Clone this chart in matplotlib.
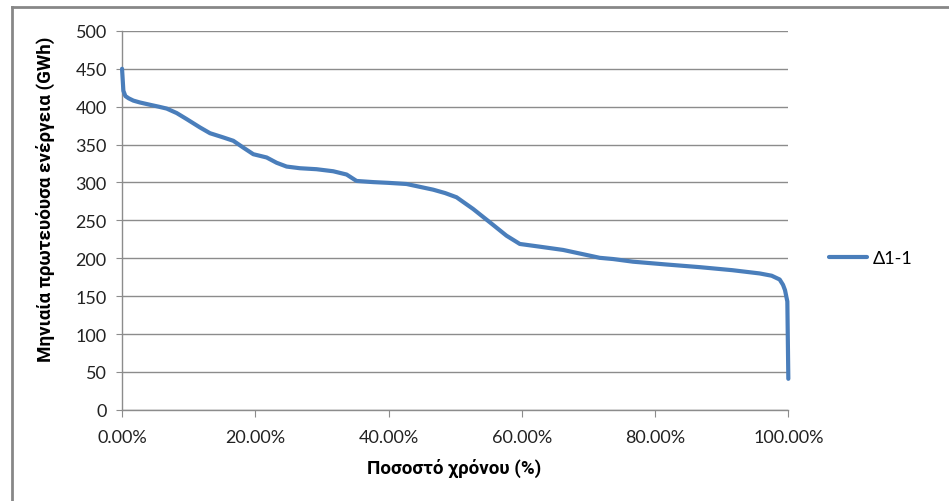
import matplotlib
matplotlib.use("Agg")
import matplotlib.pyplot as plt
from matplotlib.lines import Line2D
from matplotlib.ticker import FuncFormatter, MultipleLocator

plt.rcParams['font.family'] = ['Lato', 'DejaVu Sans']

# duration curve of monthly primary energy, series Δ1-1
time_pct = [0, 0.2, 0.5, 1.0, 1.7, 2.7, 4.2, 5.5, 6.7, 8.2, 9.7, 11.7, 13.2, 15.2,
            16.7, 18.2, 19.7, 21.7, 23.2, 24.7, 26.7, 29.2, 31.7, 33.7, 35.2,
            37.7, 40.0, 42.7, 46.7, 48.5, 50.2, 52.7, 55.2, 57.7, 59.7, 62.7,
            66.2, 69.7, 71.7, 73.7, 76.7, 81.7, 86.7, 91.6, 95.7, 97.5, 98.7,
            99.2, 99.5, 99.85, 100]
energy_gwh = [450, 421, 414, 411, 408, 405.5, 402.5, 400, 397.5, 391.6, 383.6, 372.6,
              365, 359.4, 355, 346, 337.3, 333, 326, 321, 318.8, 317.5, 314.8,
              310.5, 302, 300.5, 299.5, 298, 290.5, 286, 280.5, 265, 247.5, 229.8,
              218.9, 215.3, 211, 204.4, 200.6, 199, 195.5, 191.8, 188.3, 184.3,
              180, 177, 172, 165, 158, 143, 41]
series_name = 'Δ1-1'

fig = plt.figure(figsize=(9.49, 5.02), dpi=100)
ax = fig.add_axes([0.1286, 0.1815, 0.7021, 0.755])

ax.plot(time_pct, energy_gwh, color='#4a7ebb', lw=3.0, label=series_name,
        solid_capstyle='round', solid_joinstyle='round', zorder=3, clip_on=False)

ax.set_xlim(0, 100)
ax.set_ylim(0, 500)
ax.xaxis.set_major_locator(MultipleLocator(20))
ax.yaxis.set_major_locator(MultipleLocator(50))
ax.xaxis.set_major_formatter(FuncFormatter(lambda v, p: f'{v:.2f}%'))

ax.grid(axis='y', color='#8c8c8c', lw=1.0)
ax.set_axisbelow(True)
for s in ['top', 'right']:
    ax.spines[s].set_visible(False)
for s in ['left', 'bottom']:
    ax.spines[s].set_color('#8c8c8c')
    ax.spines[s].set_linewidth(1.0)
ax.tick_params(axis='x', direction='out', length=5, color='#8c8c8c',
               labelsize=13, pad=9, labelcolor='#222222')
ax.tick_params(axis='y', direction='out', length=4, color='#8c8c8c',
               labelsize=13, pad=7, labelcolor='#222222')

label_family = ['Roboto', 'DejaVu Sans']
ax.set_xlabel('Ποσοστό χρόνου (%)', family=label_family, fontsize=13.5,
              fontweight='bold')
ax.set_ylabel('Μηνιαία πρωτευόυσα ενέργεια (GWh)', family=label_family,
              fontsize=13.5, fontweight='bold')
ax.xaxis.set_label_coords(0.499, -0.153)
ax.yaxis.set_label_coords(-0.1156, 0.559)
ax.xaxis.label.set_va('center')
ax.yaxis.label.set_va('center')

fig.legend(loc='center left', bbox_to_anchor=(829 / 949, 1 - 259 / 502),
           frameon=False, fontsize=13, handlelength=2.1, handletextpad=0.35,
           borderaxespad=0, borderpad=0)

# outer chart frame
fig.add_artist(Line2D([12 / 949, 12 / 949], [0, 1 - 8 / 502],
                      transform=fig.transFigure, color='#878787', lw=2))
fig.add_artist(Line2D([12 / 949, 1], [1 - 8 / 502, 1 - 8 / 502],
                      transform=fig.transFigure, color='#878787', lw=2))

fig.savefig('out.png', dpi=100)
